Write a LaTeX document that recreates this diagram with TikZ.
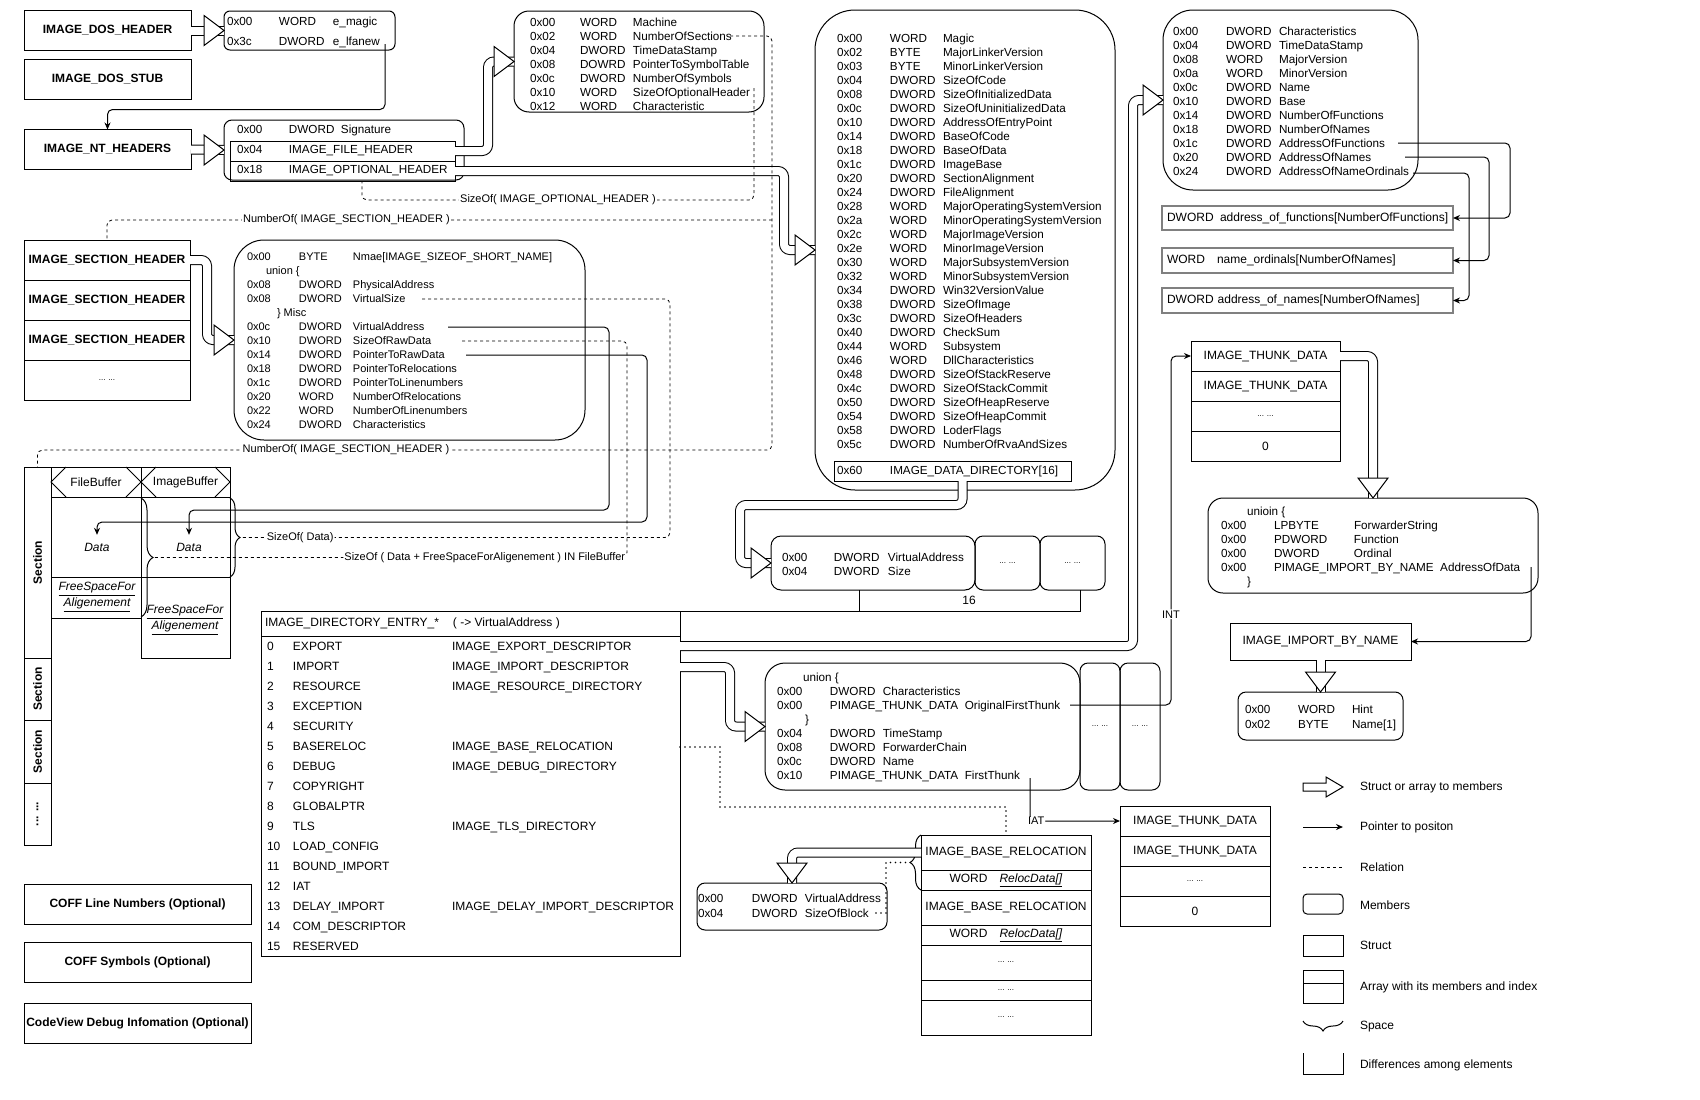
\documentclass[tikz,border=0pt]{standalone}
\usepackage{fontspec}
\setmainfont{Liberation Sans}
\usepackage{xcolor}
\usepackage{array}
\usepackage{tikz}
\usetikzlibrary{arrows.meta, positioning, calc, decorations.pathreplacing}
\setlength{\tabcolsep}{0pt}
\newcommand{\memfont}{\fontsize{11.7}{14}\selectfont}
\newcommand{\secfont}{\fontsize{11}{14}\selectfont}
\newcommand{\cellfont}{\fontsize{12}{14}\selectfont}
\newcommand{\dirfont}{\fontsize{12}{20}\selectfont}
\newcommand{\labfont}{\fontsize{11}{13}\selectfont}
\newcommand{\hdrfont}{\fontsize{12}{14}\selectfont\bfseries}
\newcommand{\dotsfont}{\fontsize{8}{9}\selectfont}
% block arrow heads: tip pointing right / down
\newcommand{\fatR}[2][1]{\draw[fathead] (#2) -- ++({-20*#1},{-15*#1}) -- ++(0,{30*#1}) -- cycle;}
\newcommand{\fatD}[2][1]{\draw[fathead] (#2) -- ++({-15*#1},{-20*#1}) -- ++({30*#1},0) -- cycle;}

\begin{document}
\begin{tikzpicture}[
    x=1pt, y=-1pt,
    every node/.style={outer sep=0pt},
    struct/.style={draw, line width=1pt, minimum width=167pt, minimum height=40pt, inner sep=0pt, font=\hdrfont},
    membox/.style={draw, line width=1pt, rounded corners=#1},
    membox/.default=10pt,
    memtext/.style={anchor=north west, inner sep=0pt, font=\memfont},
    field/.style={draw, line width=1pt, minimum width=225pt, minimum height=20pt, text width=211pt, inner xsep=7pt, inner ysep=0pt, font=\memfont, align=left},
    cell/.style={draw, line width=1pt, inner sep=0pt, font=\cellfont, align=center},
    arrbox/.style={draw=black!50, line width=1.4pt, minimum width=291pt, text width=281pt, inner xsep=5pt, inner ysep=0pt, font=\cellfont, align=left},
    strip/.style={draw, line width=1pt, minimum width=27pt, inner sep=0pt, font=\hdrfont},
    fatshaft/.style={draw, line width=1pt, double=white, double distance=8pt, rounded corners=6pt},
    fathead/.style={draw, line width=1pt, fill=white, line join=miter},
    ptr/.style={draw, line width=1pt, rounded corners=5pt, -{Stealth[length=7pt, width=6pt]}},
    relation/.style={draw, line width=0.8pt, dash pattern=on 3pt off 3pt, rounded corners=5pt},
    dotrel/.style={draw, line width=1.6pt, dash pattern=on 0pt off 5pt, line cap=round},
    rellabel/.style={fill=white, inner sep=1pt, font=\labfont},
    curly/.style={draw, line width=1pt, decorate, decoration={brace, amplitude=#1}},
    legtext/.style={anchor=west, inner sep=0pt, font=\cellfont}
  ]
  \useasboundingbox (0,0) rectangle (1700,1100);

  % --- DOS / NT HEADERS ---
  \node[struct] (doshdr) at (107.5,30.5) {IMAGE\_DOS\_HEADER};
  \node[struct, below=9pt of doshdr] (dosstub) {IMAGE\_DOS\_STUB};
  \node[struct, below=30pt of dosstub] (nthdr) {IMAGE\_NT\_HEADERS};

  \node[membox=6pt, minimum width=171pt, minimum height=39pt] (emagic) at (309.5,30.5) {};
  \node[memtext, font=\fontsize{11.7}{20}\selectfont] (emagic-txt) at (227,11.2) {\begin{tabular}{@{}p{52pt}p{54pt}l@{}}
    0x00 & WORD  & e\_magic\\
    0x3c & DWORD & e\_lfanew
  \end{tabular}};

  \node[membox=8pt, minimum width=240pt, minimum height=60pt] (ntmem) at (344,150) {};
  \node[memtext, anchor=west] (ntsig) at (237,130) {\makebox[52pt][l]{0x00}DWORD\ \ Signature};
  \node[field] (ntfile) at (342.5,151) {\makebox[52pt][l]{0x04}IMAGE\_FILE\_HEADER};
  \node[field, below=0pt of ntfile] (ntopt) {\makebox[52pt][l]{0x18}IMAGE\_OPTIONAL\_HEADER};

  % --- FILE HEADER ---
  \node[membox=15pt, minimum width=250pt, minimum height=101pt] (filehdr) at (639,61.5) {};
  \node[memtext] (filehdr-txt) at (530,16.4) {\begin{tabular}{@{}p{50pt}p{53pt}l@{}}
    0x00 & WORD  & Machine\\
    0x02 & WORD  & NumberOfSections\\
    0x04 & DWORD & TimeDataStamp\\
    0x08 & DOWRD & PointerToSymbolTable\\
    0x0c & DWORD & NumberOfSymbols\\
    0x10 & WORD  & SizeOfOptionalHeader\\
    0x12 & WORD  & Characteristic
  \end{tabular}};

  % --- OPTIONAL HEADER ---
  \node[membox=40pt, minimum width=300pt, minimum height=480pt] (opthdr) at (965,250) {};
  \node[memtext] (opthdr-txt) at (837,32.4) {\begin{tabular}{@{}p{53pt}p{53pt}l@{}}
    0x00 & WORD  & Magic\\
    0x02 & BYTE  & MajorLinkerVersion\\
    0x03 & BYTE  & MinorLinkerVersion\\
    0x04 & DWORD & SizeOfCode\\
    0x08 & DWORD & SizeOfInitializedData\\
    0x0c & DWORD & SizeOfUninitializedData\\
    0x10 & DWORD & AddressOfEntryPoint\\
    0x14 & DWORD & BaseOfCode\\
    0x18 & DWORD & BaseOfData\\
    0x1c & DWORD & ImageBase\\
    0x20 & DWORD & SectionAlignment\\
    0x24 & DWORD & FileAlignment\\
    0x28 & WORD  & MajorOperatingSystemVersion\\
    0x2a & WORD  & MinorOperatingSystemVersion\\
    0x2c & WORD  & MajorImageVersion\\
    0x2e & WORD  & MinorImageVersion\\
    0x30 & WORD  & MajorSubsystemVersion\\
    0x32 & WORD  & MinorSubsystemVersion\\
    0x34 & DWORD & Win32VersionValue\\
    0x38 & DWORD & SizeOfImage\\
    0x3c & DWORD & SizeOfHeaders\\
    0x40 & DWORD & CheckSum\\
    0x44 & WORD  & Subsystem\\
    0x46 & WORD  & DllCharacteristics\\
    0x48 & DWORD & SizeOfStackReserve\\
    0x4c & DWORD & SizeOfStackCommit\\
    0x50 & DWORD & SizeOfHeapReserve\\
    0x54 & DWORD & SizeOfHeapCommit\\
    0x58 & DWORD & LoderFlags\\
    0x5c & DWORD & NumberOfRvaAndSizes
  \end{tabular}};
  \node[field, minimum width=237pt, text width=231pt, inner xsep=3pt] (datadir) at (952.5,471) {\makebox[53pt][l]{0x60}IMAGE\_DATA\_DIRECTORY[16]};

  % --- DATA DIRECTORY ENTRIES ---
  \node[membox=10pt, minimum width=204pt, minimum height=54pt] (dde) at (873,563) {};
  \node[memtext] (dde-txt) at (782,551.4) {\begin{tabular}{@{}p{52pt}p{54pt}l@{}}
    0x00 & DWORD & VirtualAddress\\
    0x04 & DWORD & Size
  \end{tabular}};
  \node[membox=8pt, minimum width=65pt, minimum height=54pt, font=\dotsfont] (ddm-1) at (1007.5,563) {... ...};
  \node[membox=8pt, minimum width=65pt, minimum height=54pt, font=\dotsfont, right=0pt of ddm-1] (ddm-2) {... ...};
  \node[font=\cellfont] (ddcount) at (969,600) {16};

  % --- EXPORT DIRECTORY ---
  \node[membox=30pt, minimum width=255pt, minimum height=180pt] (exphdr) at (1290.5,100) {};
  \node[memtext] (exphdr-txt) at (1173,25.4) {\begin{tabular}{@{}p{53pt}p{53pt}l@{}}
    0x00 & DWORD & Characteristics\\
    0x04 & DWORD & TimeDataStamp\\
    0x08 & WORD  & MajorVersion\\
    0x0a & WORD  & MinorVersion\\
    0x0c & DWORD & Name\\
    0x10 & DWORD & Base\\
    0x14 & DWORD & NumberOfFunctions\\
    0x18 & DWORD & NumberOfNames\\
    0x1c & DWORD & AddressOfFunctions\\
    0x20 & DWORD & AddressOfNames\\
    0x24 & DWORD & AddressOfNameOrdinals
  \end{tabular}};
  \node[arrbox, minimum height=24pt] (funcarr) at (1307.5,218) {\makebox[53pt][l]{DWORD}address\_of\_functions[NumberOfFunctions]};
  \node[arrbox, minimum height=25pt, below=18pt of funcarr] (ordarr) {\makebox[50pt][l]{WORD}name\_ordinals[NumberOfNames]};
  \node[arrbox, minimum height=25pt, below=15pt of ordarr] (namearr) {DWORD address\_of\_names[NumberOfNames]};

  % --- SECTION HEADERS ---
  \node[struct, minimum width=166pt] (sechdr-1) at (107,260) {IMAGE\_SECTION\_HEADER};
  \node[struct, minimum width=166pt, below=0pt of sechdr-1] (sechdr-2) {IMAGE\_SECTION\_HEADER};
  \node[struct, minimum width=166pt, below=0pt of sechdr-2] (sechdr-3) {IMAGE\_SECTION\_HEADER};
  \node[struct, minimum width=166pt, below=0pt of sechdr-3, font=\dotsfont] (sechdr-4) {... ...};

  \node[membox=30pt, minimum width=351pt, minimum height=200pt] (secmem) at (409.5,340) {};
  \node[memtext, font=\secfont] (secmem-txt) at (247,251.1) {\begin{tabular}{@{}p{52pt}p{54pt}l@{}}
    0x00 & BYTE & Nmae[IMAGE\_SIZEOF\_SHORT\_NAME]\\
    \multicolumn{3}{l}{\hspace*{19pt}union \{}\\
    0x08 & DWORD & PhysicalAddress\\
    0x08 & DWORD & VirtualSize\\
    \multicolumn{3}{l}{\hspace*{30pt}\} Misc}\\
    0x0c & DWORD & VirtualAddress\\
    0x10 & DWORD & SizeOfRawData\\
    0x14 & DWORD & PointerToRawData\\
    0x18 & DWORD & PointerToRelocations\\
    0x1c & DWORD & PointerToLinenumbers\\
    0x20 & WORD  & NumberOfRelocations\\
    0x22 & WORD  & NumberOfLinenumbers\\
    0x24 & DWORD & Characteristics
  \end{tabular}};

  % --- SECTIONS ---
  \node[strip, minimum height=191pt] (sec-1) at (37.5,562.5) {\rotatebox{90}{Section}};
  \node[strip, minimum height=62pt, below=0pt of sec-1] (sec-2) {\rotatebox{90}{Section}};
  \node[strip, minimum height=63pt, below=0pt of sec-2] (sec-3) {\rotatebox{90}{Section}};
  \node[strip, minimum height=62pt, below=0pt of sec-3] (sec-4) {\rotatebox{90}{... ...}};

  \node[cell, minimum width=90pt, minimum height=151pt] (fbcol) at (96,542.5) {};
  \node[cell, minimum width=89pt, minimum height=191pt] (ibcol) at (185.5,562.5) {};
  \draw[line width=1pt] (51,497) -- (230,497) (51,577) -- (230,577);
  \draw[line width=1pt] (66,467) -- (51,482) -- (66,497) (126,467) -- (141,482) -- (126,497)
                        (156,467) -- (141,482) -- (156,497) (215,467) -- (230,482) -- (215,497);
  \node[font=\cellfont] (fbhead) at (96,482) {FileBuffer};
  \node[font=\cellfont] (ibhead) at (185.5,482) {ImageBuffer};
  \node[font=\cellfont\itshape, inner sep=8pt] (fbdata) at (97,547) {Data};
  \node[font=\cellfont\itshape, inner sep=8pt] (ibdata) at (189,547) {Data};
  \node[font=\fontsize{12}{16}\selectfont\itshape, align=center, inner sep=0pt] (fbfree) at (97,597) {\underline{FreeSpaceFor}\\\underline{Aligenement}};
  \node[font=\fontsize{12}{16}\selectfont\itshape, align=center, inner sep=0pt] (ibfree) at (185,620) {\underline{FreeSpaceFor}\\\underline{Aligenement}};
  \draw[curly=12pt] (141,498) -- (141,617);
  \draw[curly=10pt] (230,498) -- (230,577);
  \coordinate (fbbrace) at (153,557.5);
  \coordinate (ibbrace) at (240,537.5);

  % --- DATA DIRECTORY TABLE ---
  \node[draw, line width=1pt, minimum width=419pt, minimum height=25pt] (dirhead) at (470.5,623.5) {};
  \node[anchor=west, inner sep=0pt, font=\cellfont] (dirhead-txt) at (265,623.5) {\makebox[188pt][l]{IMAGE\_DIRECTORY\_ENTRY\_*}( -> VirtualAddress )};
  \node[draw, line width=1pt, minimum width=419pt, minimum height=320pt, below=0pt of dirhead] (dirbody) {};
  \node[memtext, font=\dirfont] (dirbody-txt) at (267,636.5) {\begin{tabular}{@{}p{26pt}p{159pt}l@{}}
    0  & EXPORT         & IMAGE\_EXPORT\_DESCRIPTOR\\
    1  & IMPORT         & IMAGE\_IMPORT\_DESCRIPTOR\\
    2  & RESOURCE       & IMAGE\_RESOURCE\_DIRECTORY\\
    3  & EXCEPTION      & \\
    4  & SECURITY       & \\
    5  & BASERELOC      & IMAGE\_BASE\_RELOCATION\\
    6  & DEBUG          & IMAGE\_DEBUG\_DIRECTORY\\
    7  & COPYRIGHT      & \\
    8  & GLOBALPTR      & \\
    9  & TLS            & IMAGE\_TLS\_DIRECTORY\\
    10 & LOAD\_CONFIG   & \\
    11 & BOUND\_IMPORT  & \\
    12 & IAT            & \\
    13 & DELAY\_IMPORT  & IMAGE\_DELAY\_IMPORT\_DESCRIPTOR\\
    14 & COM\_DESCRIPTOR & \\
    15 & RESERVED       &
  \end{tabular}};
  \coordinate (dir-export) at ([yshift=-10pt]dirbody.north east);
  \coordinate (dir-import) at ([yshift=-31pt]dirbody.north east);
  \coordinate (dir-reloc) at ([yshift=-111pt]dirbody.north east);

  % --- IMPORT DESCRIPTOR ---
  \node[membox=20pt, minimum width=315pt, minimum height=127pt] (impdesc) at (922.5,726.5) {};
  \node[memtext] (impdesc-txt) at (777,671.4) {\begin{tabular}{@{}p{53pt}p{53pt}l@{}}
    \multicolumn{3}{l}{\hspace*{26pt}union \{}\\
    0x00 & DWORD & Characteristics\\
    0x00 & \multicolumn{2}{l}{PIMAGE\_THUNK\_DATA\ \ OriginalFirstThunk}\\
    \multicolumn{3}{l}{\hspace*{28pt}\}}\\
    0x04 & DWORD & TimeStamp\\
    0x08 & DWORD & ForwarderChain\\
    0x0c & DWORD & Name\\
    0x10 & \multicolumn{2}{l}{PIMAGE\_THUNK\_DATA\ \ FirstThunk}
  \end{tabular}};
  \node[membox=8pt, minimum width=40pt, minimum height=127pt, font=\dotsfont] (idm-1) at (1100,726.5) {... ...};
  \node[membox=8pt, minimum width=40pt, minimum height=127pt, font=\dotsfont, right=0pt of idm-1] (idm-2) {... ...};

  % --- THUNK DATA (INT) ---
  \node[cell, minimum width=149pt, minimum height=30pt] (int-1) at (1265.5,356) {IMAGE\_THUNK\_DATA};
  \node[cell, minimum width=149pt, minimum height=30pt, below=0pt of int-1] (int-2) {IMAGE\_THUNK\_DATA};
  \node[cell, minimum width=149pt, minimum height=30pt, below=0pt of int-2, font=\dotsfont] (int-3) {... ...};
  \node[cell, minimum width=149pt, minimum height=30pt, below=0pt of int-3] (int-4) {0};

  \node[membox=15pt, minimum width=330pt, minimum height=95pt] (thunk) at (1373,545.5) {};
  \node[memtext] (thunk-txt) at (1221,505.4) {\begin{tabular}{@{}p{53pt}p{80pt}l@{}}
    \multicolumn{3}{l}{\hspace*{26pt}unioin \{}\\
    0x00 & LPBYTE & ForwarderString\\
    0x00 & PDWORD & Function\\
    0x00 & DWORD  & Ordinal\\
    0x00 & \multicolumn{2}{l}{PIMAGE\_IMPORT\_BY\_NAME\ \ AddressOfData}\\
    \multicolumn{3}{l}{\hspace*{26pt}\}}
  \end{tabular}};
  \node[cell, minimum width=181pt, minimum height=37pt] (ibn) at (1320.5,641.5) {IMAGE\_IMPORT\_BY\_NAME};
  \node[membox=8pt, minimum width=165pt, minimum height=48pt] (hint) at (1320.5,716) {};
  \node[memtext, font=\fontsize{11.7}{15}\selectfont] (hint-txt) at (1245,702.7) {\begin{tabular}{@{}p{53pt}p{54pt}l@{}}
    0x00 & WORD & Hint\\
    0x02 & BYTE & Name[1]
  \end{tabular}};

  % --- THUNK DATA (IAT) ---
  \node[cell, minimum width=150pt, minimum height=30pt] (iat-1) at (1195,821) {IMAGE\_THUNK\_DATA};
  \node[cell, minimum width=150pt, minimum height=30pt, below=0pt of iat-1] (iat-2) {IMAGE\_THUNK\_DATA};
  \node[cell, minimum width=150pt, minimum height=30pt, below=0pt of iat-2, font=\dotsfont] (iat-3) {... ...};
  \node[cell, minimum width=150pt, minimum height=30pt, below=0pt of iat-3] (iat-4) {0};

  % --- BASE RELOCATION ---
  \node[cell, minimum width=170pt, minimum height=35pt] (reloc-1) at (1006,852.5) {IMAGE\_BASE\_RELOCATION};
  \node[cell, minimum width=170pt, minimum height=20pt, below=0pt of reloc-1] (reloc-2) {WORD\hspace{12pt}\underline{\textit{RelocData[]}}};
  \node[cell, minimum width=170pt, minimum height=35pt, below=0pt of reloc-2] (reloc-3) {IMAGE\_BASE\_RELOCATION};
  \node[cell, minimum width=170pt, minimum height=20pt, below=0pt of reloc-3] (reloc-4) {WORD\hspace{12pt}\underline{\textit{RelocData[]}}};
  \node[cell, minimum width=170pt, minimum height=35pt, below=0pt of reloc-4, font=\dotsfont] (reloc-5) {... ...};
  \node[cell, minimum width=170pt, minimum height=20pt, below=0pt of reloc-5, font=\dotsfont] (reloc-6) {... ...};
  \node[cell, minimum width=170pt, minimum height=35pt, below=0pt of reloc-6, font=\dotsfont] (reloc-7) {... ...};
  \draw[curly=11pt] (reloc-2.south west) -- (reloc-1.north west);
  \coordinate (relbrace) at (910,862.5);

  \node[membox=8pt, minimum width=190pt, minimum height=47pt] (relmem) at (792,906.5) {};
  \node[memtext, font=\fontsize{11.7}{15}\selectfont] (relmem-txt) at (698,891.7) {\begin{tabular}{@{}p{54pt}p{53pt}l@{}}
    0x00 & DWORD & VirtualAddress\\
    0x04 & DWORD & SizeOfBlock
  \end{tabular}};

  % --- OPTIONAL TRAILERS ---
  \node[struct, minimum width=227pt, inner xsep=1pt] (coff-ln) at (137.5,904) {COFF Line Numbers (Optional)};
  \node[struct, minimum width=227pt, inner xsep=1pt, below=18pt of coff-ln] (coff-sym) {COFF Symbols (Optional)};
  \node[struct, minimum width=227pt, inner xsep=1pt, below=21pt of coff-sym] (cv-dbg) {CodeView Debug Infomation (Optional)};

  % --- STRUCT -> MEMBERS ---
  \draw[fatshaft] (doshdr.east) -- (emagic.west);
  \fatR{emagic.west}
  \draw[fatshaft] (nthdr.east) -- (ntmem.west);
  \fatR{ntmem.west}
  \draw[fatshaft] (ntfile.east) -| ([xshift=-26pt]filehdr.west) -- (filehdr.west);
  \fatR{filehdr.west}
  \draw[fatshaft] (ntopt.east) -| ([xshift=-31pt]opthdr.west) -- (opthdr.west);
  \fatR{opthdr.west}
  \draw[fatshaft] ([xshift=10pt]datadir.south) -- ++(0,24) -| ([xshift=-31pt]dde.west) -- (dde.west);
  \fatR{dde.west}
  \draw[fatshaft] (sechdr-1.east) -| ([xshift=-27pt]secmem.west) -- (secmem.west);
  \fatR{secmem.west}
  \draw[fatshaft] (dir-export) -| ([xshift=-30pt]exphdr.west) -- (exphdr.west);
  \fatR{exphdr.west}
  \draw[fatshaft] (dir-import) -| ([xshift=-35pt]impdesc.west) -- (impdesc.west);
  \fatR{impdesc.west}
  \draw[fatshaft] (int-1.east) -| (thunk.north);
  \fatD{thunk.north}
  \draw[fatshaft] (ibn.south) -- (hint.north);
  \fatD{hint.north}
  \draw[fatshaft] (reloc-1.west) -| (relmem.north);
  \fatD{relmem.north}

  % --- 16 ENTRIES ---
  \draw[line width=1pt] (dirhead.north east) -- (1080,611) -- (1080,590);
  \draw[line width=1pt] ([xshift=-14pt]dde.south) -- ++(0,21);

  % --- POINTERS ---
  \coordinate (lfanew) at (385,44);
  \draw[ptr] (lfanew) |- ([yshift=20pt]nthdr.north) -- (nthdr.north);
  \coordinate (aof) at (1398,143);
  \coordinate (aon) at (1405,157);
  \coordinate (aono) at (1413,173);
  \draw[ptr] (aof) -| ([xshift=57pt]funcarr.east) -- (funcarr.east);
  \draw[ptr] (aon) -| ([xshift=36pt]ordarr.east) -- (ordarr.east);
  \draw[ptr] (aono) -| ([xshift=16pt]namearr.east) -- (namearr.east);
  \coordinate (va) at (448,327);
  \coordinate (ptrd) at (466,355);
  \draw[ptr] (va) -| (609,510) -| (ibdata.north);
  \draw[ptr] (ptrd) -| (647,522) -| (fbdata.north);
  \coordinate (oft) at (1070,705);
  \coordinate (ft) at (1030,778);
  \draw[ptr] (oft) -| node[rellabel, pos=0.63] {INT} ([xshift=-20pt]int-1.west) -- (int-1.west);
  \draw[ptr] (ft) |- node[rellabel, pos=0.535] {IAT} (iat-1.west);
  \coordinate (aod) at (1531,567);
  \draw[ptr] (aod) |- (ibn.east);

  % --- RELATIONS ---
  \coordinate (nsec) at (730,36);
  \coordinate (soh) at (754,88);
  \coordinate (ohtap) at (362,181);
  \coordinate (nsbranch) at (772,220);
  \draw[relation] (soh) |- node[rellabel, pos=0.75] {SizeOf( IMAGE\_OPTIONAL\_HEADER )} (362,200) -- (ohtap);
  \draw[relation] (nsec) -| (772,450) -| node[rellabel, pos=0.29] {NumberOf( IMAGE\_SECTION\_HEADER )} (sec-1.north);
  \draw[relation] (nsbranch) -| node[rellabel, pos=0.32] {NumberOf( IMAGE\_SECTION\_HEADER )} (sechdr-1.north);
  \coordinate (vs) at (422,299);
  \coordinate (srd) at (462,341);
  \draw[relation] (vs) -| (670,537.5) -- node[rellabel, pos=0.86] {SizeOf( Data)} (ibbrace);
  \draw[relation] (srd) -| (627,557.5) -- node[rellabel, pos=0.30] {SizeOf ( Data + FreeSpaceForAligenement ) IN FileBuffer} (fbbrace);
  \draw[dotrel] (dir-reloc) -- ++(40,0) |- ([yshift=28pt]reloc-1.north) -- (reloc-1.north);
  \coordinate (sob) at (876,913);
  \draw[dotrel] (sob) -- ++(10,0) |- (relbrace);

  % --- LEGEND ---
  \draw[fathead] (1303,783) -- (1326,783) -- (1326,777) -- (1343,787) -- (1326,797) -- (1326,791) -- (1303,791) -- cycle;
  \node[legtext] (lg-fat) at (1360,787) {Struct or array to members};
  \coordinate (lg-ptr-a) at (1303,827);
  \coordinate (lg-ptr-b) at (1343,827);
  \draw[ptr] (lg-ptr-a) -- (lg-ptr-b);
  \node[legtext] (lg-ptr) at (1360,827) {Pointer to positon};
  \coordinate (lg-rel-a) at (1303,867);
  \coordinate (lg-rel-b) at (1343,867);
  \draw[relation] (lg-rel-a) -- (lg-rel-b);
  \node[legtext] (lg-rel) at (1360,867) {Relation};
  \node[membox=4pt, minimum width=40pt, minimum height=20pt] (lg-mem-box) at (1323,904) {};
  \node[legtext] (lg-mem) at (1360,905) {Members};
  \node[draw, line width=1pt, minimum width=40pt, minimum height=21pt] (lg-struct-box) at (1323,945.5) {};
  \node[legtext] (lg-struct) at (1360,945) {Struct};
  \node[draw, line width=1pt, minimum width=40pt, minimum height=33pt] (lg-arr-box) at (1323,986.5) {};
  \draw[line width=1pt] (lg-arr-box.west |- 0,983) -- (lg-arr-box.east |- 0,983);
  \node[legtext] (lg-arr) at (1360,987) {Array with its members and index};
  \draw[curly=10pt] (1343,1021) -- (1303,1021);
  \node[legtext] (lg-space) at (1360,1027) {Space};
  \draw[line width=1pt] (1303,1053) -- (1303,1074) -- (1343,1074) -- (1343,1053);
  \node[legtext] (lg-diff) at (1360,1065) {Differences among elements};
\end{tikzpicture}
\end{document}
